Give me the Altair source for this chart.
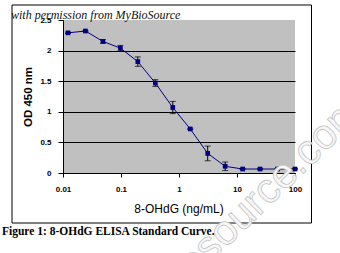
import altair as alt
import pandas as pd

# ---- data ----
conc = [0.0122, 0.0244, 0.0488, 0.0977, 0.195, 0.391, 0.781, 1.5625, 3.125, 6.25, 12.5, 25, 50, 100]
od = [2.29, 2.32, 2.15, 2.04, 1.82, 1.47, 1.07, 0.72, 0.32, 0.11, 0.065, 0.065, 0.065, 0.065]
err = [0.01, 0.01, 0.03, 0.045, 0.077, 0.055, 0.10, 0.01, 0.12, 0.07, 0.01, 0.01, 0.01, 0.01]
x_ticks = [0.01, 0.1, 1, 10, 100]
y_ticks = [0, 0.5, 1, 1.5, 2, 2.5]

df = pd.DataFrame({"conc": conc, "od": od, "err": err})
df["lo"] = df["od"] - df["err"]
df["hi"] = df["od"] + df["err"]
one = pd.DataFrame({"a": [0]})

NAVY = "#000080"
W, H = 232, 153
OX, OY = 63, 20  # plot origin in page pixels

xscale = alt.Scale(type="log", domain=[0.01, 100], nice=False)
yscale = alt.Scale(domain=[0, 2.5], nice=False)
xaxis = alt.Axis(values=x_ticks, format="~g", title=None, grid=False,
                 domainColor="black", tickColor="black", tickSize=4,
                 labelPadding=8, labelFont="Liberation Sans", labelFontWeight="bold",
                 labelFontSize=8, labelColor="black", labelFlush=False, labelOverlap=False)
yaxis = alt.Axis(values=y_ticks, tickCount=6, labelExpr="format(datum.value, '~g')", title=None,
                 grid=True,
                 gridColor=alt.condition("datum.value >= 2.5", alt.value("transparent"), alt.value("black")),
                 gridOpacity=1, gridWidth=1,
                 domainColor="black", tickColor="black", tickSize=5,
                 labelPadding=7, labelFont="Liberation Sans", labelFontWeight="bold",
                 labelFontSize=8, labelColor="black", labelFlush=False, labelOverlap=False)

frame = alt.Chart(one).mark_rect(fillOpacity=0, stroke="black", strokeWidth=1).encode(
    x=alt.value(12 - OX), x2=alt.value(311.5 - OX), y=alt.value(5 - OY), y2=alt.value(223 - OY))

line = alt.Chart(df).mark_line(color=NAVY, strokeWidth=1).encode(
    x=alt.X("conc:Q", scale=xscale, axis=xaxis),
    y=alt.Y("od:Q", scale=yscale, axis=yaxis))
ebar = alt.Chart(df).mark_rule(color="black", strokeWidth=1).encode(
    x="conc:Q", y="lo:Q", y2="hi:Q")
cap_lo = alt.Chart(df).mark_tick(color="black", orient="horizontal", size=6, thickness=1).encode(
    x="conc:Q", y="lo:Q")
cap_hi = alt.Chart(df).mark_tick(color="black", orient="horizontal", size=6, thickness=1).encode(
    x="conc:Q", y="hi:Q")
pts = alt.Chart(df).mark_point(shape="square", filled=True, color=NAVY, size=22, opacity=1).encode(
    x="conc:Q", y="od:Q")


def label(text, px, py, **kw):
    return alt.Chart(one).mark_text(text=text, **kw).encode(
        x=alt.value(px - OX), y=alt.value(py - OY))


ytitle = label("OD 450 nm", 29, 97, angle=270, font="Liberation Sans", fontWeight="bold",
               fontSize=11.5, color="black", align="center", baseline="middle")
xtitle = label("8-OHdG (ng/mL)", 179, 209, font="Liberation Sans", fontSize=12,
               color="black", align="center", baseline="middle")
caption = label("Figure 1: 8-OHdG ELISA Standard Curve.", 2, 232, font="Liberation Serif",
                fontWeight="bold", fontSize=11.5, color="black", align="left", baseline="middle")
perm = label("with permission from MyBioSource", 11, 19, font="Liberation Serif",
             fontStyle="italic", fontSize=12, color="#111111", align="left", baseline="alphabetic")
wm = label("www.mybiosource.com", 366, 113, font="Liberation Sans", fontSize=42, angle=316,
           fill="#f7f7f7", stroke="#c4c4c4", strokeWidth=0.8, align="right", baseline="alphabetic")

chart = alt.layer(frame, line, ebar, cap_lo, cap_hi, pts, ytitle, xtitle, caption, perm, wm).properties(
    width=W, height=H,
    autosize=alt.AutoSizeParams(type="none"),
    padding={"left": OX, "top": OY, "right": 340 - OX - W, "bottom": 253 - OY - H},
    background="white",
).configure_view(fill="#C0C0C0", strokeWidth=0)

chart.save("out.html", embed_options={"renderer": "svg", "actions": False})
